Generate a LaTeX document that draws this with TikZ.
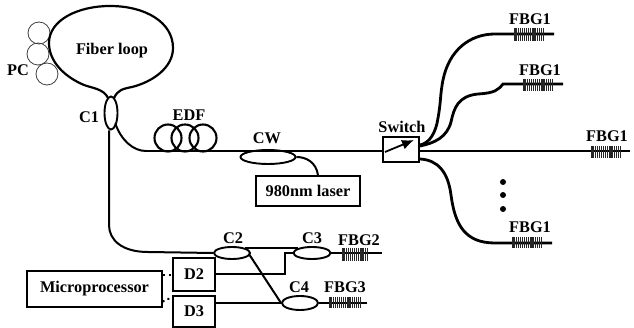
\documentclass[tikz,border=0pt]{standalone}
\usepackage{fontspec}
\setmainfont{Liberation Serif}
\usetikzlibrary{shapes.geometric,arrows.meta,calc}
\tikzset{
 lbl/.style={font=\fontsize{16.3}{18}\selectfont\bfseries,inner sep=0pt,text=black},
 fib/.style={line width=2pt,black},
 fibthick/.style={line width=2.8pt,black},
 coup/.style={ellipse,draw,line width=1.9pt,inner sep=0pt,fill=white},
 boxn/.style={draw,line width=2pt,inner sep=0pt,fill=white,font=\fontsize{16.3}{18}\selectfont\bfseries},
 thin circle/.style={circle,draw,line width=0.8pt,black!75,inner sep=0pt,minimum size=22pt},
 edfc/.style={circle,draw,line width=2.1pt,inner sep=0pt,minimum size=27pt},
 lnk/.style={line width=2pt,dash pattern=on 2pt off 4pt}
}
\newcommand{\grating}[4]{% x1, x2, y1, y2
 \pgfmathsetmacro{\gxb}{#1+1.9}
 \foreach \gx in {#1,\gxb,...,#2}{\draw[line width=1.1pt,black!85] (\gx,#3) -- (\gx,#4);}
}
\begin{document}
\begin{tikzpicture}[x=1pt,y=-1pt]
\useasboundingbox (0,0) rectangle (634,328);
% polarization controller
\node[thin circle] (pa) at (39,33) {};
\node[thin circle] (pb) at (38,54) {};
\node[thin circle] (pc) at (47,74) {};
% fibre loop
\coordinate (lla) at (108,98);
\coordinate (llb) at (114,98);
\draw[line width=2.2pt] (lla) .. controls (104,89) and (92,88) .. (84,85)
  .. controls (65,77) and (49,62) .. (49,43)
  .. controls (49,20) and (78,6) .. (110,6)
  .. controls (145,6) and (173,22) .. (173,48)
  .. controls (173,68) and (152,82) .. (132,87)
  .. controls (122,89) and (118,90) .. (llb);
\node[lbl] (ln) at (112,51) {Fiber loop};
\node[lbl] (pcl) at (18,70) {PC};
\node[coup,minimum width=13pt,minimum height=33pt] (c1) at (111,113) {};
\node[lbl] (c1l) at (89,117) {C1};
% EDF
\node[edfc] (e1) at (168,138) {};
\node[edfc] (e2) at (185,138) {};
\node[edfc] (e3) at (203,138) {};
\node[lbl] (edfl) at (189,115) {EDF};
% Switch
\coordinate (inl) at (146,151);
\node[coup,minimum width=55pt,minimum height=14pt] (cw) at (268,157) {};
\node[lbl] (cwl) at (267,138) {CW};
\node[boxn,minimum width=104pt,minimum height=30pt] (laser) at (308,191) {980nm laser};
\node[boxn,minimum width=36pt,minimum height=25pt] (sw) at (401,149.5) {};
\node[lbl] (swl) at (402,127) {Switch};
\draw[fib] (c1.south east) ++(-1,-2) coordinate (c1se) .. controls (121,140) and (133,151) .. (inl);
\draw[fib] (inl) -- (cw.north |- inl) -- (sw.west |- inl);
\draw[fib] (cw.east) .. controls (306,157) and (316,162) .. (laser.north -| 318,176);
% switch arrow
\coordinate (sa) at (385,152);
\coordinate (sb) at (414,140);
\draw[line width=1.8pt,-{Latex[length=12pt,width=10pt]}] (sa) -- (sb);
% FBG1 branches
\coordinate (o1) at (554,34);
\coordinate (o2) at (563,84);
\coordinate (o3) at (630,151);
\coordinate (o4) at (552,243);
\draw[fibthick] (sw.east |- 0,145) .. controls (430,143) and (436,132) .. (438,118)
  .. controls (441,102) and (440,95) .. (443,80)
  .. controls (449,50) and (470,34) .. (495,34) -- (o1);
\draw[fibthick] (sw.east |- 0,146) .. controls (435,143) and (447,137) .. (451,122)
  .. controls (454,108) and (458,96) .. (478,94)
  .. controls (495,93) and (498,90) .. (503,84) -- (o2);
\draw[fib] (sw.east |- 0,151) -- (o3);
\draw[fibthick] (sw.east |- 0,159) .. controls (438,160) and (448,172) .. (451,195)
  .. controls (455,225) and (465,243) .. (495,243) -- (o4);
\grating{515}{544}{28}{41}
\grating{524}{554}{79}{91}
\grating{592}{621}{146}{158}
\grating{513}{543}{237}{248}
\node[lbl] (f1) at (530,19) {FBG1};
\node[lbl] (f2) at (540,70) {FBG1};
\node[lbl] (f3) at (607,136) {FBG1};
\node[lbl] (f4) at (530,227) {FBG1};
\foreach \dy [count=\i] in {182,195,209}{\node[circle,fill=black,inner sep=0pt,minimum size=6pt] (dot\i) at (503,\dy) {};}
% lower part
\node[coup,minimum width=36pt,minimum height=12pt] (c2) at (232,253) {};
\node[coup,minimum width=37pt,minimum height=12pt] (c3) at (312,253) {};
\node[coup,minimum width=36pt,minimum height=14pt] (c4) at (300,303) {};
\node[boxn,minimum width=42pt,minimum height=33pt] (d2) at (194,274.5) {D2};
\node[boxn,minimum width=42pt,minimum height=31pt] (d3) at (194,311.5) {D3};
\node[boxn,minimum width=135pt,minimum height=36pt] (mp) at (94.5,289) {Microprocessor};
\coordinate (c2t) at (148,252);
\draw[fib] (c1.south -| 109,0) -- (109,225) .. controls (109,240) and (122,252) .. (c2t) -- (c2.west);
\draw[fib] (c2.north east) -- (c3.north west);
\draw[fib] (c2.east) ++(-2,1) coordinate (c2e) -- (c4.west);
\coordinate (c3r) at (382,253);
\coordinate (c4r) at (367,303);
\coordinate (bend) at (285,274);
\draw[fib] (c3.east) -- (c3r);
\draw[fib] (c4.east) -- (c4r);
\draw[fib] (d2.east |- bend) -- (bend) -- (bend |- c3) -- (c3.west);
\draw[fib] (d3.east |- c4) -- (c4.west);
\draw[lnk] (mp.east |- 0,275) -- (d2.west |- 0,275);
\draw[lnk] (mp.east |- 0,302) -- (165,299) -- (d3.west |- 0,299);
\grating{343}{369}{248}{261}
\grating{330}{362}{297}{308}
\node[lbl] (c2l) at (233,238) {C2};
\node[lbl] (c3l) at (312,238) {C3};
\node[lbl] (c4l) at (299,287) {C4};
\node[lbl] (f5) at (359,240) {FBG2};
\node[lbl] (f6) at (345,287) {FBG3};
\end{tikzpicture}
\end{document}
